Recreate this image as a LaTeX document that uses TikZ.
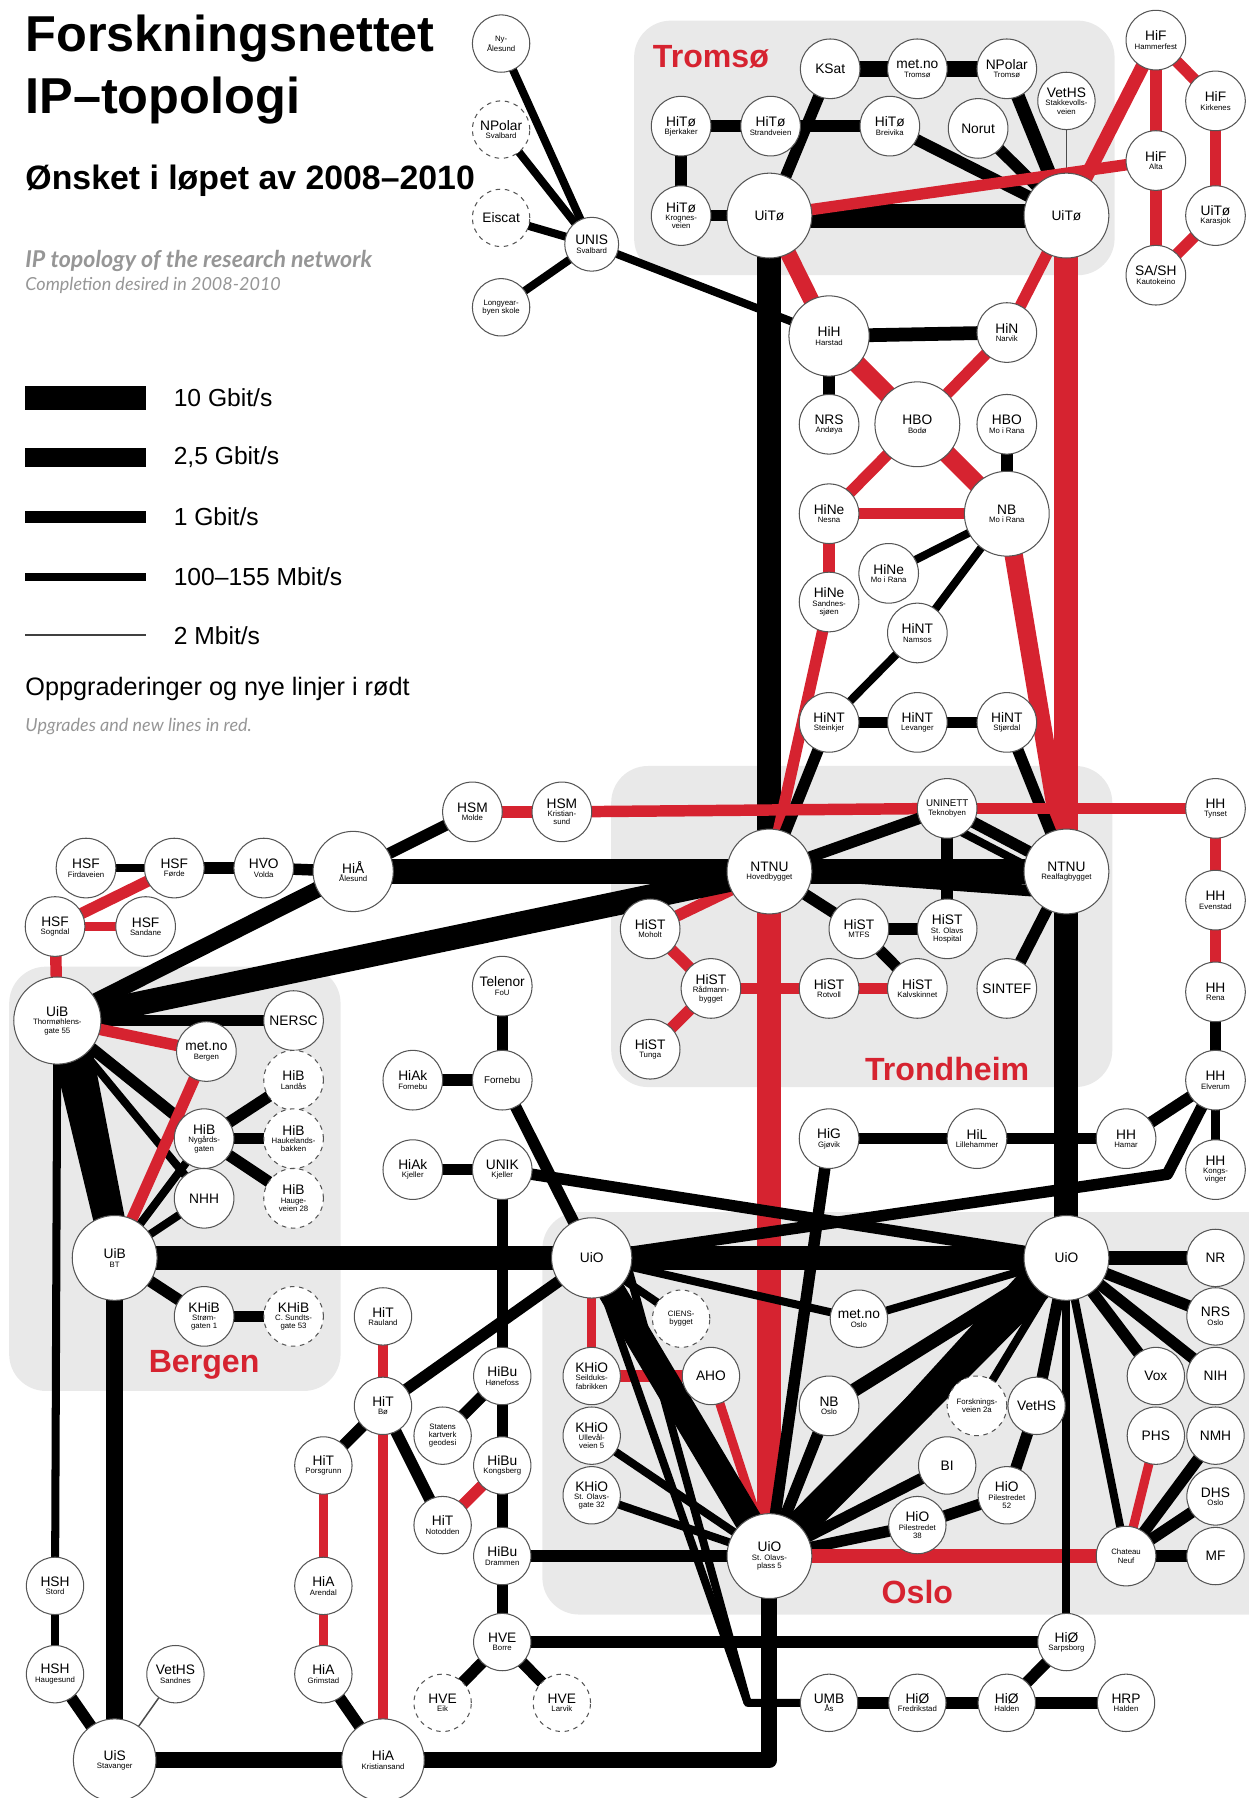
\documentclass[tikz,border=0pt]{standalone}
\usepackage{fontspec}
\setmainfont{Liberation Sans}
\newfontfamily\enfont{Lato}
\definecolor{rc}{RGB}{214,35,48}
\definecolor{bgc}{RGB}{233,233,233}
\definecolor{ndc}{RGB}{85,85,85}
\definecolor{enc}{RGB}{150,150,150}
\newcommand{\mn}[1]{{\fontsize{12}{12}\selectfont #1}}
\newcommand{\sm}[1]{{\fontsize{8.5}{9}\selectfont #1}}
\pgfdeclarelayer{back}
\pgfdeclarelayer{lines}
\pgfsetlayers{back,lines,main}
\begin{document}
\begin{tikzpicture}[x=1pt,y=-1pt,
  nd/.style={circle,draw=ndc,line width=0.9pt,fill=white,minimum size=52pt,inner sep=0pt,align=center,font=\fontsize{6.8}{7.3}\selectfont},
  ndm/.style={nd,minimum size=70pt},
  ndb/.style={nd,minimum size=74pt},
  dnd/.style={nd,dashed,dash pattern=on 4pt off 4pt},
  bgbox/.style={fill=bgc,rounded corners=32pt},
  rgn/.style={text=rc,font=\bfseries\fontsize{28}{28}\selectfont},
  g10/.style={line width=21pt},
  g25/.style={line width=15pt},
  g1/.style={line width=10pt},
  g100/.style={line width=7pt},
  g2/.style={line width=1.3pt,draw=black!70},
  rd/.style={draw=rc},
  lgtxt/.style={anchor=west,font=\fontsize{21.5}{22}\selectfont}
]
\useasboundingbox (0,0) rectangle (1089,1568);
\begin{scope}
\clip (0,0) rectangle (1089,1568);
% background regions
\begin{pgfonlayer}{back}
\fill[bgbox] (553,18) rectangle (972,240);
\fill[bgbox] (533,668) rectangle (970,948);
\fill[bgbox] (8,843) rectangle (297,1213);
\fill[bgbox] (473,1057) rectangle (1130,1408);
\end{pgfonlayer}

% titles
\node[anchor=base west,font=\bfseries\fontsize{44}{44}\selectfont,inner sep=0pt] (t1) at (22,45) {Forskningsnettet};
\node[anchor=base west,font=\bfseries\fontsize{44}{44}\selectfont,inner sep=0pt] (t2) at (22,99) {IP–topologi};
\node[anchor=base west,font=\bfseries\fontsize{29.5}{30}\selectfont,inner sep=0pt] (t3) at (22,165) {Ønsket i løpet av 2008–2010};
\node[anchor=west,inner sep=0pt,text=enc,font=\enfont\bfseries\itshape\fontsize{20.2}{20}\selectfont] (e1) at (22,228) {IP topology of the research network};
\node[anchor=west,inner sep=0pt,text=enc,font=\enfont\itshape\fontsize{15.7}{16}\selectfont] (e2) at (22,249) {Completion desired in 2008-2010};

% legend
\coordinate (la1) at (22,347); \coordinate (lb1) at (127,347);
\coordinate (la2) at (22,399); \coordinate (lb2) at (127,399);
\coordinate (la3) at (22,451); \coordinate (lb3) at (127,451);
\coordinate (la4) at (22,503); \coordinate (lb4) at (127,503);
\coordinate (la5) at (22,554); \coordinate (lb5) at (127,554);
\draw[g10] (la1) -- (lb1);
\draw[line width=16pt] (la2) -- (lb2);
\draw[g1] (la3) -- (lb3);
\draw[g100] (la4) -- (lb4);
\draw[line width=1.5pt,draw=black!75] (la5) -- (lb5);
\node[lgtxt] (l1) at (148,347) {10 Gbit/s};
\node[lgtxt] (l2) at (148,399) {2,5 Gbit/s};
\node[lgtxt] (l3) at (148,451) {1 Gbit/s};
\node[lgtxt] (l4) at (148,503) {100–155 Mbit/s};
\node[lgtxt] (l5) at (148,554) {2 Mbit/s};
\node[anchor=west,inner sep=0pt,font=\fontsize{22}{22}\selectfont] (l6) at (22,601) {Oppgraderinger og nye linjer i rødt};
\node[anchor=west,inner sep=0pt,text=enc,font=\enfont\itshape\fontsize{15.7}{16}\selectfont] (l7) at (22,634) {Upgrades and new lines in red.};

% region labels
\node[rgn] (rTr) at (620,50) {Tromsø};
\node[rgn] (rTd) at (826,932) {Trondheim};
\node[rgn] (rBe) at (178,1190) {Bergen};
\node[rgn] (rOs) at (800,1388) {Oslo};

% ---------- nodes ----------
% Svalbard
\node[nd,minimum size=50pt] (nyal) at (437,38) {Ny-\\Ålesund};
\node[dnd,minimum size=50pt] (npsv) at (437,113) {\mn{NPolar}\\Svalbard};
\node[dnd,minimum size=50pt] (eisc) at (437,190) {\mn{Eiscat}};
\node[nd,minimum size=47pt] (unis) at (516,213) {\mn{UNIS}\\Svalbard};
\node[nd,minimum size=50pt] (lyb) at (437,268) {Longyear-\\byen skole};
% Tromso
\node[nd] (ksat) at (724,60) {\mn{KSat}};
\node[nd] (mett) at (800,60) {\mn{met.no}\\Tromsø};
\node[nd] (npt) at (878,60) {\mn{NPolar}\\Tromsø};
\node[nd,minimum size=50pt] (veth) at (930,88) {\mn{VetHS}\\Stakkevolls-\\veien};
\node[nd] (htbj) at (594,110) {\mn{HiTø}\\Bjerkaker};
\node[nd] (htst) at (672,110) {\mn{HiTø}\\Strandveien};
\node[nd] (htbr) at (776,110) {\mn{HiTø}\\Breivika};
\node[nd] (norut) at (853,112) {\mn{Norut}};
\node[nd] (htkr) at (594,188) {\mn{HiTø}\\Krognes-\\veien};
\node[ndb] (uitl) at (671,188) {\mn{UiTø}};
\node[ndb] (uitr) at (930,188) {\mn{UiTø}};
\node[nd] (hifh) at (1008,35) {\mn{HiF}\\Hammerfest};
\node[nd] (hifk) at (1060,88) {\mn{HiF}\\Kirkenes};
\node[nd] (hifa) at (1008,140) {\mn{HiF}\\Alta};
\node[nd] (uitk) at (1060,188) {\mn{UiTø}\\Karasjok};
\node[nd] (sash) at (1008,240) {\mn{SA/SH}\\Kautokeino};
% North
\node[ndm] (hih) at (723,293) {\mn{HiH}\\Harstad};
\node[nd] (hin) at (878,290) {\mn{HiN}\\Narvik};
\node[nd] (nrs) at (723,370) {\mn{NRS}\\Andøya};
\node[ndb] (hbo) at (800,370) {\mn{HBO}\\Bodø};
\node[nd] (hbom) at (878,370) {\mn{HBO}\\Mo i Rana};
\node[nd] (hnen) at (723,448) {\mn{HiNe}\\Nesna};
\node[ndb] (nbm) at (878,448) {\mn{NB}\\Mo i Rana};
\node[nd] (hnem) at (775,500) {\mn{HiNe}\\Mo i Rana};
\node[nd] (hnes) at (723,525) {\mn{HiNe}\\Sandnes-\\sjøen};
\node[nd] (hntn) at (800,552) {\mn{HiNT}\\Namsos};
\node[nd] (hnts) at (723,630) {\mn{HiNT}\\Steinkjer};
\node[nd] (hntl) at (800,630) {\mn{HiNT}\\Levanger};
\node[nd] (hntj) at (878,630) {\mn{HiNT}\\Stjørdal};
% Trondheim
\node[nd] (unin) at (826,705) {\sm{UNINETT}\\Teknobyen};
\node[ndb] (ntnh) at (671,760) {\mn{NTNU}\\Hovedbygget};
\node[ndb] (ntnr) at (930,760) {\mn{NTNU}\\Realfagbygget};
\node[nd] (hsmo) at (567,810) {\mn{HiST}\\Moholt};
\node[nd] (hsmt) at (749,810) {\mn{HiST}\\MTFS};
\node[nd] (hsso) at (826,810) {\mn{HiST}\\St. Olavs\\Hospital};
\node[nd] (hsra) at (620,862) {\mn{HiST}\\Rådmann-\\bygget};
\node[nd] (hsro) at (723,862) {\mn{HiST}\\Rotvoll};
\node[nd] (hska) at (800,862) {\mn{HiST}\\Kalvskinnet};
\node[nd] (sint) at (878,862) {\mn{SINTEF}};
\node[nd] (hstu) at (567,915) {\mn{HiST}\\Tunga};
% West
\node[nd] (hsfj) at (75,757) {\mn{HSF}\\Firdaveien};
\node[nd] (hsff) at (152,757) {\mn{HSF}\\Førde};
\node[nd] (hvo) at (230,757) {\mn{HVO}\\Volda};
\node[ndm] (hia) at (308,760) {\mn{HiÅ}\\Ålesund};
\node[nd] (hsfs) at (48,808) {\mn{HSF}\\Sogndal};
\node[nd] (hsfa) at (127,808) {\mn{HSF}\\Sandane};
\node[nd] (hsmm) at (412,708) {\mn{HSM}\\Molde};
\node[nd] (hsmk) at (490,708) {\mn{HSM}\\Kristian-\\sund};
% Hedmark / Oppland
\node[nd] (hhty) at (1060,705) {\mn{HH}\\Tynset};
\node[nd] (hhev) at (1060,785) {\mn{HH}\\Evenstad};
\node[nd] (hhre) at (1060,865) {\mn{HH}\\Rena};
\node[nd] (hhel) at (1060,942) {\mn{HH}\\Elverum};
\node[nd] (hhko) at (1060,1020) {\mn{HH}\\Kongs-\\vinger};
\node[nd] (hig) at (723,993) {\mn{HiG}\\Gjøvik};
\node[nd] (hil) at (852,993) {\mn{HiL}\\Lillehammer};
\node[nd] (hhha) at (982,993) {\mn{HH}\\Hamar};
% Bergen
\node[ndb,minimum size=76pt] (uibt) at (50,890) {\mn{UiB}\\Thormøhlens-\\gate 55};
\node[nd] (nersc) at (256,890) {\mn{NERSC}};
\node[nd] (metb) at (180,917) {\mn{met.no}\\Bergen};
\node[dnd] (hibl) at (256,942) {\mn{HiB}\\Landås};
\node[nd] (hibn) at (178,993) {\mn{HiB}\\Nygårds-\\gaten};
\node[dnd] (hibh) at (256,993) {\mn{HiB}\\Haukelands-\\bakken};
\node[dnd] (hibv) at (256,1045) {\mn{HiB}\\Hauge-\\veien 28};
\node[nd] (nhh) at (178,1045) {\mn{NHH}};
\node[ndb] (uibb) at (100,1097) {\mn{UiB}\\BT};
\node[nd] (khs) at (178,1148) {\mn{KHiB}\\Strøm-\\gaten 1};
\node[dnd] (khc) at (256,1148) {\mn{KHiB}\\C. Sundts-\\gate 53};
% middle
\node[nd] (telf) at (438,860) {\mn{Telenor}\\FoU};
\node[nd] (forn) at (438,942) {\sm{Fornebu}};
\node[nd] (hakf) at (360,942) {\mn{HiAk}\\Fornebu};
\node[nd] (hakk) at (360,1020) {\mn{HiAk}\\Kjeller};
\node[nd] (unik) at (438,1020) {\mn{UNIK}\\Kjeller};
% Oslo
\node[ndm] (uiol) at (516,1097) {\mn{UiO}};
\node[ndb] (uior) at (930,1097) {\mn{UiO}};
\node[dnd,minimum size=50pt] (ciens) at (594,1150) {CIENS-\\bygget};
\node[nd,minimum size=50pt] (meto) at (749,1150) {\mn{met.no}\\Oslo};
\node[nd,minimum size=50pt] (khsf) at (516,1200) {\mn{KHiO}\\Seilduks-\\fabrikken};
\node[nd,minimum size=50pt] (aho) at (620,1200) {\mn{AHO}};
\node[nd] (nbo) at (723,1226) {\mn{NB}\\Oslo};
\node[dnd] (forsk) at (852,1226) {Forsknings-\\veien 2a};
\node[nd,minimum size=50pt] (vetho) at (904,1226) {\mn{VetHS}};
\node[nd,minimum size=50pt] (khul) at (516,1252) {\mn{KHiO}\\Ullevål-\\veien 5};
\node[nd,minimum size=50pt] (bi) at (826,1278) {\mn{BI}};
\node[nd,minimum size=50pt] (hio52) at (878,1304) {\mn{HiO}\\Pilestredet\\52};
\node[nd,minimum size=50pt] (khsog) at (516,1304) {\mn{KHiO}\\St. Olavs-\\gate 32};
\node[nd,minimum size=50pt] (hio38) at (800,1330) {\mn{HiO}\\Pilestredet\\38};
\node[ndb] (uios) at (671,1357) {\mn{UiO}\\St. Olavs-\\plass 5};
\node[nd] (chat) at (982,1357) {Chateau\\Neuf};
\node[nd,minimum size=50pt] (nr) at (1060,1097) {\mn{NR}};
\node[nd,minimum size=50pt] (nrso) at (1060,1148) {\mn{NRS}\\Oslo};
\node[nd,minimum size=50pt] (vox) at (1008,1200) {\mn{Vox}};
\node[nd,minimum size=50pt] (nih) at (1060,1200) {\mn{NIH}};
\node[nd,minimum size=50pt] (phs) at (1008,1252) {\mn{PHS}};
\node[nd,minimum size=50pt] (nmh) at (1060,1252) {\mn{NMH}};
\node[nd,minimum size=50pt] (dhs) at (1060,1305) {\mn{DHS}\\Oslo};
\node[nd,minimum size=50pt] (mf) at (1060,1357) {\mn{MF}};
% South
\node[nd,minimum size=50pt] (hitr) at (334,1148) {\mn{HiT}\\Rauland};
\node[nd,minimum size=50pt] (hitb) at (334,1226) {\mn{HiT}\\Bø};
\node[nd,minimum size=50pt] (stk) at (386,1252) {Statens\\kartverk\\geodesi};
\node[nd,minimum size=50pt] (hibuh) at (438,1200) {\mn{HiBu}\\Hønefoss};
\node[nd,minimum size=50pt] (hibuk) at (438,1278) {\mn{HiBu}\\Kongsberg};
\node[nd,minimum size=50pt] (hitp) at (282,1278) {\mn{HiT}\\Porsgrunn};
\node[nd,minimum size=50pt] (hitn) at (386,1330) {\mn{HiT}\\Notodden};
\node[nd,minimum size=50pt] (hibud) at (438,1357) {\mn{HiBu}\\Drammen};
\node[nd,minimum size=50pt] (hiaa) at (282,1383) {\mn{HiA}\\Arendal};
\node[nd,minimum size=50pt] (hveb) at (438,1432) {\mn{HVE}\\Borre};
\node[nd,minimum size=50pt] (hiag) at (282,1460) {\mn{HiA}\\Grimstad};
\node[dnd,minimum size=50pt] (hvee) at (386,1485) {\mn{HVE}\\Eik};
\node[dnd,minimum size=50pt] (hvel) at (490,1485) {\mn{HVE}\\Larvik};
\node[nd,minimum size=50pt] (hios) at (930,1432) {\mn{HiØ}\\Sarpsborg};
\node[nd,minimum size=50pt] (umb) at (723,1485) {\mn{UMB}\\Ås};
\node[nd,minimum size=50pt] (hiof) at (800,1485) {\mn{HiØ}\\Fredrikstad};
\node[nd,minimum size=50pt] (hioh) at (878,1485) {\mn{HiØ}\\Halden};
\node[nd,minimum size=50pt] (hrp) at (982,1485) {\mn{HRP}\\Halden};
\node[nd,minimum size=50pt] (hshs) at (48,1383) {\mn{HSH}\\Stord};
\node[nd,minimum size=50pt] (hshh) at (48,1460) {\mn{HSH}\\Haugesund};
\node[nd,minimum size=50pt] (veths) at (153,1460) {\mn{VetHS}\\Sandnes};
\node[ndb,minimum size=72pt] (uis) at (100,1535) {\mn{UiS}\\Stavanger};
\node[ndb,minimum size=72pt] (hiak) at (334,1535) {\mn{HiA}\\Kristiansand};
\coordinate (bkr) at (671,1535);
\coordinate (bumb) at (652,1485);
\coordinate (bel) at (1018,1024);

% ---------- connectors ----------
\begin{pgfonlayer}{lines}
% Svalbard
\draw[g100] (nyal.center) -- (unis.center);
\draw[g100] (npsv.center) -- (unis.center);
\draw[g100] (eisc.center) -- (unis.center);
\draw[g100] (lyb.center) -- (unis.center);
\draw[g100] (unis.center) -- (hih.center);
% Tromso
\draw[g1] (htbj.center) -- (htst.center);
\draw[g1] (htbj.center) -- (htkr.center);
\draw[g1] (htkr.center) -- (uitl.center);
\draw[g1] (htst.center) -- (htbr.center);
\draw[g1] (ksat.center) -- (uitl.center);
\draw[g1] (htbr.center) -- (uitr.center);
\draw[g1] (norut.center) -- (uitr.center);
\draw[line width=14pt] (ksat.center) -- (mett.center);
\draw[line width=14pt] (mett.center) -- (npt.center);
\draw[line width=12pt] (npt.center) -- (uitr.center);
\draw[g2] (veth.center) -- (uitr.center);
\draw[g10] (uitl.center) -- (uitr.center);
\draw[g10] (uitl.center) -- (ntnh.center);
\draw[rd,g10] (uitr.center) -- (ntnr.center);
\draw[rd,line width=10pt] (uitl.center) -- (hifa.center);
\draw[rd,line width=12pt] (hifh.center) -- (uitr.center);
\draw[rd,line width=10pt] (hifh.center) -- (hifa.center);
\draw[rd,line width=10pt] (hifh.center) -- (hifk.center);
\draw[rd,line width=10pt] (hifk.center) -- (uitk.center);
\draw[rd,line width=10pt] (uitk.center) -- (sash.center);
\draw[rd,line width=10pt] (hifa.center) -- (sash.center);
\draw[rd,line width=10pt] (uitr.center) -- (hin.center);
\draw[rd,line width=14pt] (uitl.center) -- (hih.center);
% North
\draw[line width=12pt] (hih.center) -- (hin.center);
\draw[g1] (hih.center) -- (nrs.center);
\draw[g1] (hbom.center) -- (nbm.center);
\draw[g1] (hnts.center) -- (hntl.center);
\draw[g1] (hntl.center) -- (hntj.center);
\draw[rd,line width=16pt] (hih.center) -- (hbo.center);
\draw[rd,line width=16pt] (hbo.center) -- (nbm.center);
\draw[rd,line width=10pt] (hin.center) -- (hbo.center);
\draw[rd,line width=10pt] (hbo.center) -- (hnen.center);
\draw[rd,line width=10pt] (hnen.center) -- (nbm.center);
\draw[rd,line width=10pt] (hnen.center) -- (hnes.center);
\draw[rd,line width=10pt] (hnes.center) -- (ntnh.center);
\draw[g100] (hnem.center) -- (nbm.center);
\draw[g100] (hntn.center) -- (nbm.center);
\draw[g100] (hntn.center) -- (hnts.center);
\draw[rd,line width=16pt] (nbm.center) -- (ntnr.center);
\draw[g1] (hnts.center) -- (ntnh.center);
\draw[g1] (hntj.center) -- (ntnr.center);
% Trondheim
\draw[rd,line width=10pt] (hsmm.center) -- (hsmk.center);
\draw[rd,line width=10pt] (hsmk.center) -- (unin.center);
\draw[rd,line width=10pt] (unin.center) -- (hhty.center);
\draw[g1] (hsmm.center) -- (hia.center);
\draw[g1] (unin.center) -- (ntnh.center);
\draw[g1] (unin.center) -- (hsso.center);
\draw[g1] (unin.center) -- (ntnr.center);
\draw[g100] ([shift={(-8,10)}]unin.center) -- ([shift={(-10,8)}]ntnr.center);
\draw[g1] (ntnh.center) -- (hsmt.center);
\draw[g1] (hsmt.center) -- (hsso.center);
\draw[g1] (hsmt.center) -- (hska.center);
\draw[g1] (ntnr.center) -- (sint.center);
\draw[g10] (ntnh.center) -- (ntnr.center);
\draw[g1] (ntnh.center) -- ([yshift=-19]ntnr.center);
\draw[rd,line width=10pt] (ntnh.center) -- (hsmo.center);
\draw[rd,line width=10pt] (hsmo.center) -- (hsra.center);
\draw[rd,line width=10pt] (hsra.center) -- (hstu.center);
\draw[rd,line width=10pt] (hsra.center) -- (hsro.center);
\draw[rd,line width=10pt] (hsro.center) -- (hska.center);
\draw[rd,g10] (ntnh.center) -- (uios.center);
\draw[g10] (ntnr.center) -- (uior.center);
\draw[g10] (hia.center) -- (ntnh.center);
\draw[g10] (uibt.center) -- (ntnh.center);
\draw[line width=14pt] (uibt.center) -- (hia.center);
% West
\draw[g100] (hsfj.center) -- (hsff.center);
\draw[g1] (hsff.center) -- (hvo.center);
\draw[g1] (hvo.center) -- (hia.center);
\draw[rd,line width=10pt] (hsff.center) -- (hsfs.center);
\draw[rd,line width=8pt] (hsfs.center) -- (hsfa.center);
\draw[rd,line width=10pt] (hsfs.center) -- (uibt.center);
% Hedmark / Oppland
\draw[rd,line width=10pt] (hhty.center) -- (hhev.center);
\draw[rd,line width=10pt] (hhev.center) -- (hhre.center);
\draw[g1] (hhre.center) -- (hhel.center);
\draw[g1] (hhel.center) -- (hhha.center);
\draw[g1,line join=round] (hhel.center) -- (bel) -- (uiol.center);
\draw[g100] (hhel.center) -- (hhko.center);
\draw[g1] (hig.center) -- (hil.center);
\draw[g1] (hil.center) -- (hhha.center);
\draw[g1] (hig.center) -- (uios.center);
% Bergen
\draw[g1] (uibt.center) -- (nersc.center);
\draw[g1] (uibt.center) -- (hibn.center);
\draw[g1] (hibn.center) -- (hibl.center);
\draw[g1] (hibn.center) -- (hibh.center);
\draw[g1] (hibn.center) -- (hibv.center);
\draw[g1] (uibb.center) -- (khs.center);
\draw[g1] (khs.center) -- (khc.center);
\draw[g100] (uibt.center) -- (nhh.center);
\draw[g100] (uibb.center) -- (nhh.center);
\draw[g100] (uibb.center) -- (hibn.center);
\draw[g100] (uibt.center) -- (hshs.center);
\draw[rd,line width=10pt] (uibt.center) -- (metb.center);
\draw[rd,line width=10pt] (metb.center) -- (uibb.center);
\draw[g10] (uibt.center) -- (uibb.center);
\draw[g25] ([xshift=18]uibt.center) -- ([xshift=8]uibb.center);
\draw[g10] (uibb.center) -- (uiol.center);
\draw[g25] (uibb.center) -- (uis.center);
% middle
\draw[g1] (telf.center) -- (forn.center);
\draw[g1] (hakf.center) -- (forn.center);
\draw[g1] (forn.center) -- (uiol.center);
\draw[g1] (hakk.center) -- (unik.center);
\draw[g1] (unik.center) -- (uior.center);
\draw[g1] (unik.center) -- (hibuh.center);
% Oslo
\draw[g10] (uiol.center) -- (uior.center);
\draw[rd,line width=8pt] (uiol.center) -- (khsf.center);
\draw[rd,line width=10pt] (khsf.center) -- (aho.center);
\draw[rd,line width=8pt] (aho.center) -- (uios.center);
\draw[g100] (uiol.center) -- (ciens.center);
\draw[g100] (uiol.center) -- (meto.center);
\draw[g100] (meto.center) -- (uior.center);
\draw[line width=24pt] (uiol.center) -- (uios.center);
\draw[g100] (khul.center) -- (uios.center);
\draw[g100] (khsog.center) -- (uios.center);
\draw[g1] (uios.center) -- (nbo.center);
\draw[line width=12pt] (nbo.center) -- (uior.center);
\draw[g1] (uios.center) -- (bi.center);
\draw[g1] (uios.center) -- (hio38.center);
\draw[g1] (hio38.center) -- (hio52.center);
\draw[g1] (hio52.center) -- (vetho.center);
\draw[g1] (vetho.center) -- (uior.center);
\draw[g100] (forsk.center) -- (uior.center);
\draw[line width=26pt] (uios.center) -- (uior.center);
\draw[g1] (uios.center) -- ([xshift=-22]uior.center);
\draw[rd,line width=12pt] (uios.center) -- (chat.center);
\draw[g100] (uior.center) -- (chat.center);
\draw[g100] (uior.center) -- (hios.center);
\draw[line width=12pt] (uior.center) -- (nr.center);
\draw[g1] (uior.center) -- (nrso.center);
\draw[g1] (uior.center) -- (nih.center);
\draw[g1] (uior.center) -- (vox.center);
\draw[rd,line width=8pt] (phs.center) -- (chat.center);
\draw[g1] (nmh.center) -- (chat.center);
\draw[g1] (dhs.center) -- (chat.center);
\draw[g1] (mf.center) -- (chat.center);
% South
\draw[g1] (uiol.center) -- (hitb.center);
\draw[rd,line width=8pt] (hitr.center) -- (hitb.center);
\draw[rd,line width=8pt] (hitb.center) -- (hiak.center);
\draw[g1] (hitb.center) -- (hitp.center);
\draw[g1] (hitb.center) -- (hitn.center);
\draw[g1] (hibuh.center) -- (stk.center);
\draw[rd,line width=10pt] (hitn.center) -- (hibuk.center);
\draw[g1] (hibuh.center) -- (hibuk.center);
\draw[g1] (hibuk.center) -- (hibud.center);
\draw[g1] (hibud.center) -- (hveb.center);
\draw[g1] (hibud.center) -- (uios.center);
\draw[g1] (hveb.center) -- (hios.center);
\draw[g1] (hveb.center) -- (hvee.center);
\draw[g1] (hveb.center) -- (hvel.center);
\draw[rd,line width=8pt] (hitp.center) -- (hiaa.center);
\draw[rd,line width=8pt] (hiaa.center) -- (hiag.center);
\draw[g1] (hiag.center) -- (hiak.center);
\draw[line width=14pt] (uis.center) -- (hiak.center);
\draw[line width=14pt,line join=round] (hiak.center) -- (bkr) -- (uios.center);
\draw[g1] (hios.center) -- (hioh.center);
\draw[g1] (umb.center) -- (hiof.center);
\draw[g1] (hiof.center) -- (hioh.center);
\draw[g1] (hioh.center) -- (hrp.center);
\draw[g100,line join=round] (uiol.center) -- (bumb) -- (umb.center);
\draw[g100] ([shift={(26,-12)}]uiol.center) -- (bumb);
\draw[g100] (hshs.center) -- (hshh.center);
\draw[g1] (hshh.center) -- (uis.center);
\draw[g2] (veths.center) -- (uis.center);
\end{pgfonlayer}
\end{scope}
\end{tikzpicture}
\end{document}
